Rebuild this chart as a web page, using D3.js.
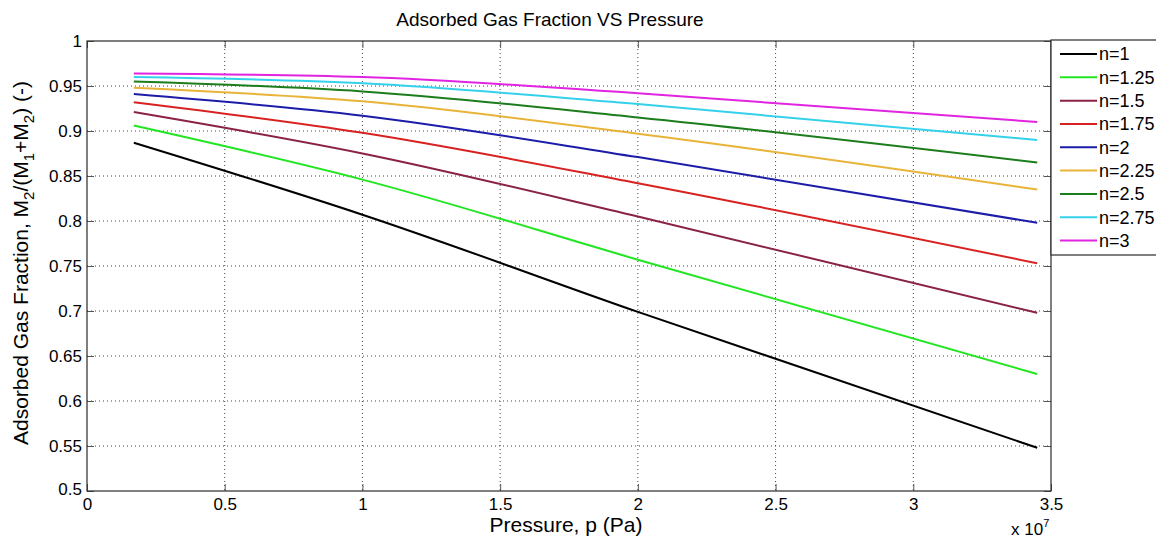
<!DOCTYPE html>
<html>
<head>
<meta charset="utf-8">
<script src="https://cdn.jsdelivr.net/npm/d3@7"></script>
<style>
  body { margin: 0; background: #fff; }
  svg { font-family: "Liberation Sans", Arial, sans-serif; }
</style>
</head>
<body>
<svg id="canvas" width="1156" height="542"></svg>
<script>
// pressure samples (Pa) where values were read
const pressures = [0.17e7, 1e7, 2e7, 3.45e7];

const seriesNames = ["n=1", "n=1.25", "n=1.5", "n=1.75", "n=2", "n=2.25", "n=2.5", "n=2.75", "n=3"];
const seriesColors = ["#000000", "#22e622", "#8a2245", "#d82222", "#1c1ca8", "#e8b338", "#1b7d1b", "#34d2ea", "#e024e0"];

const n1 = [0.887, 0.807, 0.699, 0.548];
const n125 = [0.906, 0.846, 0.757, 0.630];
const n15 = [0.921, 0.875, 0.805, 0.698];
const n175 = [0.932, 0.898, 0.842, 0.753];
const n2 = [0.941, 0.917, 0.871, 0.798];
const n225 = [0.948, 0.933, 0.897, 0.835];
const n25 = [0.955, 0.944, 0.915, 0.865];
const n275 = [0.960, 0.953, 0.930, 0.890];
const n3 = [0.964, 0.960, 0.942, 0.910];

const seriesValues = [n1, n125, n15, n175, n2, n225, n25, n275, n3];

const xTicks = [0, 0.5e7, 1e7, 1.5e7, 2e7, 2.5e7, 3e7, 3.5e7];
const xTickLabels = ["0", "0.5", "1", "1.5", "2", "2.5", "3", "3.5"];
const yTicks = [0.5, 0.55, 0.6, 0.65, 0.7, 0.75, 0.8, 0.85, 0.9, 0.95, 1];

const canvas = d3.select("#canvas");

const plotLeft = 87, plotRight = 1051, plotTop = 41, plotBottom = 491;

const x = d3.scaleLinear().domain([0, 3.5e7]).range([plotLeft, plotRight]);
const y = d3.scaleLinear().domain([0.5, 1]).range([plotBottom, plotTop]);

// grid
const grid = canvas.append("g");
grid.selectAll("line.gx")
    .data(xTicks.slice(1, -1))
    .enter()
    .append("line")
    .attr("x1", (d) => x(d)).attr("x2", (d) => x(d))
    .attr("y1", plotTop).attr("y2", plotBottom)
    .attr("stroke", "#444").attr("stroke-width", 1)
    .attr("stroke-dasharray", "1,3");
grid.selectAll("line.gy")
    .data(yTicks.slice(1, -1))
    .enter()
    .append("line")
    .attr("x1", plotLeft).attr("x2", plotRight)
    .attr("y1", (d) => y(d)).attr("y2", (d) => y(d))
    .attr("stroke", "#444").attr("stroke-width", 1)
    .attr("stroke-dasharray", "1,3");

// axes (ticks pointing inward)
const xAxis = canvas.append("g")
    .attr("transform", "translate(0," + plotBottom + ")")
    .call(d3.axisBottom(x).tickValues(xTicks).tickSizeInner(-7).tickSizeOuter(0)
        .tickFormat((d, i) => xTickLabels[i]));
xAxis.select(".domain").remove();
xAxis.selectAll("line").attr("stroke", "#555");
xAxis.selectAll("text").attr("y", 19).attr("dy", 0).attr("font-size", 17).attr("fill", "#000")
    .attr("font-family", "Liberation Sans, Arial, sans-serif");

const xAxisTop = canvas.append("g")
    .attr("transform", "translate(0," + plotTop + ")")
    .call(d3.axisTop(x).tickValues(xTicks).tickSizeInner(-7).tickSizeOuter(0).tickFormat(""));
xAxisTop.select(".domain").remove();
xAxisTop.selectAll("line").attr("stroke", "#555");

const yAxis = canvas.append("g")
    .attr("transform", "translate(" + plotLeft + ",0)")
    .call(d3.axisLeft(y).tickValues(yTicks).tickSizeInner(-7).tickSizeOuter(0)
        .tickFormat((d) => d3.format("")(+d.toFixed(2))));
yAxis.select(".domain").remove();
yAxis.selectAll("line").attr("stroke", "#555");
yAxis.selectAll("text").attr("x", -5).attr("font-size", 17).attr("fill", "#000")
    .attr("font-family", "Liberation Sans, Arial, sans-serif");
// bottom-left label sits a bit lower like the original
yAxis.selectAll(".tick").filter((d) => d === 0.5).select("text").attr("dy", "0.2em");

const yAxisRight = canvas.append("g")
    .attr("transform", "translate(" + plotRight + ",0)")
    .call(d3.axisRight(y).tickValues(yTicks).tickSizeInner(-7).tickSizeOuter(0).tickFormat(""));
yAxisRight.select(".domain").remove();
yAxisRight.selectAll("line").attr("stroke", "#555");

// series lines
const line = d3.line()
    .x((d, i) => x(pressures[i]))
    .y((d) => y(d))
    .curve(d3.curveMonotoneX);

canvas.append("g")
    .selectAll("path")
    .data(seriesValues)
    .enter()
    .append("path")
    .attr("d", (d) => line(d))
    .attr("fill", "none")
    .attr("stroke", (d, i) => seriesColors[i])
    .attr("stroke-width", 2);

// box
canvas.append("rect")
    .attr("x", plotLeft).attr("y", plotTop)
    .attr("width", plotRight - plotLeft).attr("height", plotBottom - plotTop)
    .attr("fill", "none").attr("stroke", "#2a2a2a").attr("stroke-width", 1.2);

// title and labels
canvas.append("text")
    .attr("x", 550).attr("y", 26)
    .attr("text-anchor", "middle").attr("font-size", 19)
    .text("Adsorbed Gas Fraction VS Pressure");

canvas.append("text")
    .attr("x", 566).attr("y", 532)
    .attr("text-anchor", "middle").attr("font-size", 21)
    .text("Pressure, p (Pa)");

const expo = canvas.append("text")
    .attr("x", 1011).attr("y", 535)
    .attr("font-size", 17);
expo.append("tspan").text("x 10");
expo.append("tspan").attr("dy", -8).attr("font-size", 11).text("7");

const yLabel = canvas.append("text")
    .attr("transform", "translate(28,263) rotate(-90)")
    .attr("text-anchor", "middle").attr("font-size", 21);
yLabel.append("tspan").text("Adsorbed Gas Fraction, M");
yLabel.append("tspan").attr("dy", 6).attr("font-size", 15).text("2");
yLabel.append("tspan").attr("dy", -6).text("/(M");
yLabel.append("tspan").attr("dy", 6).attr("font-size", 15).text("1");
yLabel.append("tspan").attr("dy", -6).text("+M");
yLabel.append("tspan").attr("dy", 6).attr("font-size", 15).text("2");
yLabel.append("tspan").attr("dy", -6).text(") (-)");

// legend
const legend = canvas.append("g");
legend.append("rect")
    .attr("x", plotRight).attr("y", 40)
    .attr("width", 120).attr("height", 215)
    .attr("fill", "#fff").attr("stroke", "#2a2a2a").attr("stroke-width", 1.2);

const rowY = d3.scaleLinear().domain([0, seriesNames.length - 1]).range([54, 240.5]);

const rows = legend.selectAll("g.row")
    .data(seriesNames)
    .enter()
    .append("g")
    .attr("transform", (d, i) => "translate(0," + rowY(i) + ")");
rows.append("line")
    .attr("x1", 1060).attr("x2", 1097)
    .attr("stroke", (d, i) => seriesColors[i]).attr("stroke-width", 2);
rows.append("text")
    .attr("x", 1099).attr("dy", "0.35em")
    .attr("font-size", 18)
    .text((d) => d);
</script>
</body>
</html>
